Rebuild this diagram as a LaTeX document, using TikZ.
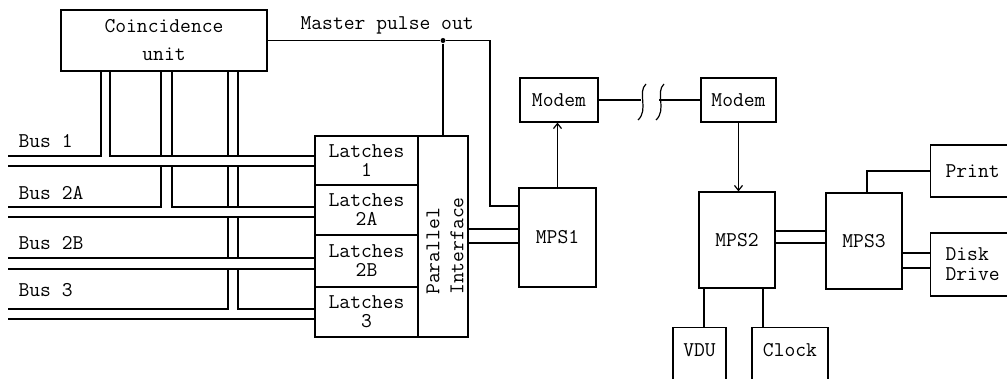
\documentclass[tikz,border=0pt]{standalone}
\usetikzlibrary{arrows.meta}
\begin{document}
\begin{tikzpicture}[
        x=1pt,y=-1pt,
        line width=1.2pt,
        every node/.style={font=\ttfamily\fontsize{21}{19}\selectfont},
        blk/.style={draw,rectangle,inner sep=0pt,align=center},
        cutblk/.style={draw,rectangle,anchor=west,inner sep=0pt,inner xsep=15pt,text width=85pt,align=left},
        lowblk/.style={draw,rectangle,anchor=north,inner sep=0pt,text height=29pt,text depth=60pt},
        lbl/.style={inner sep=0pt,anchor=base west},
        jDot/.style={circle,fill,inner sep=0pt,minimum size=5pt},
        arr/.style={-{Straight Barb[length=5pt,width=8pt]}}]
        \useasboundingbox (0,0) rectangle (1007,379);
        \clip (0,0) rectangle (1007,379);
        % units
        \node[blk,minimum width=206pt,minimum height=61pt] (coin) at (164,40.5) {Coincidence\\[9pt]unit};
        \node[blk,minimum width=103pt,minimum height=49pt] (lat1) at (366.5,160.5) {Latches\\1};
        \node[blk,minimum width=103pt,minimum height=50pt] (lat2a) at (366.5,210) {Latches\\2A};
        \node[blk,minimum width=103pt,minimum height=52pt] (lat2b) at (366.5,261) {Latches\\2B};
        \node[blk,minimum width=103pt,minimum height=50pt] (lat3) at (366.5,312) {Latches\\3};
        \node[blk,minimum width=50pt,minimum height=201pt] (pif) at (443,236.5) {};
        \node[rotate=90,align=left,inner sep=0pt,font=\ttfamily\fontsize{21}{24}\selectfont] (piftxt) at (445,246) {Parallel\\Interface};
        \node[blk,minimum width=77pt,minimum height=99pt] (mps1) at (557.5,237.5) {MPS1};
        \node[blk,minimum width=78pt,minimum height=44pt] (modem1) at (559,100) {Modem};
        \node[blk,minimum width=75pt,minimum height=44pt] (modem2) at (738.5,100) {Modem};
        \node[blk,minimum width=76pt,minimum height=96pt] (mps2) at (737,240) {MPS2};
        \node[blk,minimum width=76pt,minimum height=96pt] (mps3) at (864,241) {MPS3};
        \node[cutblk,minimum height=52pt] (print) at (930,171) {Print};
        \node[cutblk,minimum height=63pt,font=\ttfamily\fontsize{21}{20}\selectfont] (disk) at (930,264.5) {Disk\\Drive};
        \node[lowblk,minimum width=53pt] (vdu) at (699.5,327) {VDU};
        \node[lowblk,minimum width=76pt] (clock) at (790,327) {Clock};
        % bus labels
        \node[lbl] (lb1) at (18,148) {Bus 1};
        \node[lbl] (lb2a) at (18,200) {Bus 2A};
        \node[lbl] (lb2b) at (18,250) {Bus 2B};
        \node[lbl] (lb3) at (18,297) {Bus 3};
        \node[lbl] (mpo) at (300,30) {Master pulse out};
        % bus ends and feeder columns
        \coordinate (b1u) at (8,156);  \coordinate (b1l) at (8,166);
        \coordinate (b2u) at (8,207);  \coordinate (b2l) at (8,217);
        \coordinate (b3u) at (8,258);  \coordinate (b3l) at (8,269);
        \coordinate (b4u) at (8,309);  \coordinate (b4l) at (8,319);
        \coordinate (v1a) at (101,0);  \coordinate (v1b) at (110,0);
        \coordinate (v2a) at (161,0);  \coordinate (v2b) at (172,0);
        \coordinate (v3a) at (228,0);  \coordinate (v3b) at (238,0);
        % bus 1
        \draw (b1u) -| (v1a |- coin.south);
        \draw (v1b |- coin.south) |- (lat1.west |- b1u);
        \draw (b1l) -- (lat1.west |- b1l);
        % bus 2A
        \draw (v2a |- coin.south) -- (v2a |- b1u) (v2b |- coin.south) -- (v2b |- b1u);
        \draw (b2u) -| (v2a |- b1l);
        \draw (v2b |- b1l) |- (lat2a.west |- b2u);
        \draw (b2l) -- (lat2a.west |- b2l);
        % bus 2B
        \draw (b3u) -- (lat2b.west |- b3u) (b3l) -- (lat2b.west |- b3l);
        % bus 3
        \draw (v3a |- coin.south) -- (v3a |- b1u) (v3b |- coin.south) -- (v3b |- b1u);
        \draw (v3a |- b1l) -- (v3a |- b2u) (v3b |- b1l) -- (v3b |- b2u);
        \draw (v3a |- b2l) -- (v3a |- b3u) (v3b |- b2l) -- (v3b |- b3u);
        \draw (b4u) -| (v3a |- b3l);
        \draw (v3b |- b3l) |- (lat3.west |- b4u);
        \draw (b4l) -- (lat3.west |- b4l);
        % master pulse
        \node[jDot] (mp) at (pif.north |- coin.east) {};
        \coordinate (mpr) at (490,40.5);
        \draw (coin.east) -- (mp) -- (pif.north);
        \draw (mp) -- (mpr) |- ([yshift=31.5pt]mps1.west);
        \draw ([yshift=7.5pt]pif.east) -- ([yshift=7.5pt]pif.east -| mps1.west)
              ([yshift=-6.5pt]pif.east) -- ([yshift=-6.5pt]pif.east -| mps1.west);
        % modem link
        \draw[arr] (mps1.north) -- (mps1.north |- modem1.south);
        \coordinate (brk1) at (641,100);
        \coordinate (brk2) at (659,100);
        \draw (modem1.east) -- (brk1) (brk2) -- (modem2.west);
        \foreach \sx in {0,18}
          \draw[xshift=\sx pt] (646,84) .. controls (637,92) and (649,110) .. (638,120);
        \draw[arr] (modem2.south) -- (modem2.south |- mps2.north);
        % MPS2 / MPS3 side
        \draw ([yshift=9pt]mps2.east) -- ([yshift=9pt]mps2.east -| mps3.west)
              ([yshift=-3pt]mps2.east) -- ([yshift=-3pt]mps2.east -| mps3.west);
        \draw ([xshift=3pt]mps3.north) |- (print.west);
        \draw ([yshift=11.5pt]disk.west) -- ([yshift=11.5pt]disk.west -| mps3.east)
              ([yshift=-3.5pt]disk.west) -- ([yshift=-3.5pt]disk.west -| mps3.east);
        \draw ([xshift=4.5pt]vdu.north) -- ([xshift=4.5pt]vdu.north |- mps2.south);
        \draw ([xshift=-27pt]clock.north) -- ([xshift=-27pt]clock.north |- mps2.south);
      \end{tikzpicture}
\end{document}
